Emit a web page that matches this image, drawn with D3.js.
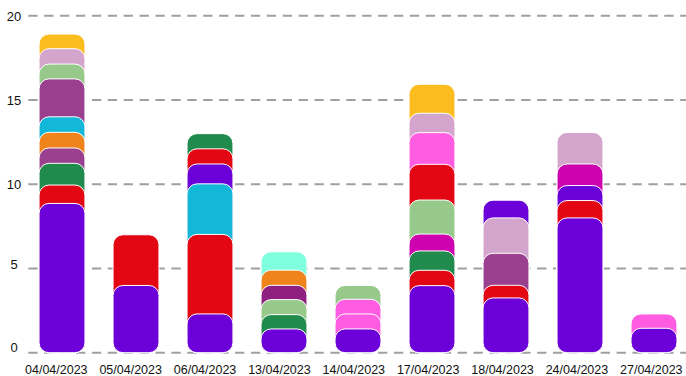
<!DOCTYPE html>
<html>
<head>
<meta charset="utf-8">
<script src="https://cdn.jsdelivr.net/npm/d3@7"></script>
<style>
  html, body { margin: 0; padding: 0; background: #fff; }
  svg { display: block; }
  text { font-family: "Liberation Sans", Arial, sans-serif; fill: #111; }
</style>
</head>
<body>
<svg id="chart" width="686" height="376"></svg>
<script>
// ---- data ----
const categories = ["04/04/2023","05/04/2023","06/04/2023","13/04/2023","14/04/2023","17/04/2023","18/04/2023","24/04/2023","27/04/2023"];

// stacked segment values per category (bottom to top)
const segmentValues = [
  [8.86, 1.09, 1.29, 0.91, 0.93, 0.92, 2.25, 0.88, 0.91, 0.87],
  [3.99, 3.01],
  [2.30, 4.72, 3.00, 1.18, 0.90, 0.90],
  [1.41, 0.85, 0.89, 0.85, 0.90, 1.09],
  [1.41, 0.89, 0.87, 0.82],
  [3.98, 0.91, 1.15, 1.00, 2.02, 2.12, 1.88, 1.15, 1.72],
  [3.25, 0.75, 1.90, 2.10, 1.05],
  [8.00, 1.03, 0.89, 1.28, 1.87],
  [1.45, 0.85]
];

// colour keys per segment
const segmentColors = [
  ["violet","red","green","plum","orange","cyan","plum","lightgreen","lilac","yellow"],
  ["violet","red"],
  ["violet","red","cyan","violet","red","green"],
  ["violet","green","lightgreen","darkmagenta","orange","aqua"],
  ["violet","pink","pink","lightgreen"],
  ["violet","red","green","magenta","lightgreen","red","pink","lilac","yellow"],
  ["violet","red","plum","lilac","violet"],
  ["violet","red","violet","magenta","lilac"],
  ["violet","pink"]
];

const palette = {
  violet: "#6b00d9", red: "#e30613", green: "#218b4e", plum: "#9b3f8f",
  orange: "#f0841c", cyan: "#13b8d9", lightgreen: "#97c98b", lilac: "#d3a5cc",
  yellow: "#fbbd1e", pink: "#ff5ce1", magenta: "#cf02b0", darkmagenta: "#8f1f80",
  aqua: "#80ffdf"
};

const yTicks = [0, 5, 10, 15, 20];

// ---- chart ----
const svg = d3.select("#chart");
const W = 686, H = 376;

const y = d3.scaleLinear().domain([0, 20]).range([352.7, 15.7]);
// label placement scale (labels near the bottom sit a little above their lines)
const yLabel = d3.scaleLinear().domain([0, 5, 10, 20]).range([347.5, 264.5, 184.2, 16]);

const x = d3.scaleBand().domain(categories).range([25, 691])
  .paddingInner(0.38).paddingOuter(0.19);
const xLabel = d3.scalePoint().domain(categories).range([56.3, 651.3]);

// gridlines
svg.append("g").selectAll("line").data(yTicks).join("line")
  .attr("x1", 28.3).attr("x2", W + 5)
  .attr("y1", d => y(d)).attr("y2", d => y(d))
  .attr("stroke", "#a0a0a0").attr("stroke-width", 2)
  .attr("stroke-dasharray", "9.3 6.6");

// y labels
svg.append("g").selectAll("text").data(yTicks).join("text")
  .attr("x", 14).attr("y", d => yLabel(d))
  .attr("text-anchor", "middle").attr("dominant-baseline", "central")
  .style("font-size", "13px")
  .text(d => d);

// bars
const stacks = categories.map((c, i) => {
  let cum = 0;
  return segmentValues[i].map((v, j) => {
    cum += v;
    return { cat: c, top: cum, color: palette[segmentColors[i][j]] };
  });
});

const barG = svg.append("g");
stacks.forEach(segs => {
  barG.append("g").selectAll("rect").data(segs.slice().reverse()).join("rect")
    .attr("x", d => x(d.cat))
    .attr("width", x.bandwidth())
    .attr("y", d => y(d.top))
    .attr("height", d => y(0) - y(d.top))
    .attr("rx", 10).attr("ry", 10)
    .attr("fill", d => d.color)
    .attr("stroke", "#fff").attr("stroke-width", 1);
});

// x labels
svg.append("g").selectAll("text").data(categories).join("text")
  .attr("x", d => xLabel(d)).attr("y", 369.5)
  .attr("text-anchor", "middle").attr("dominant-baseline", "central")
  .style("font-size", "12.5px")
  .text(d => d);
</script>
</body>
</html>
